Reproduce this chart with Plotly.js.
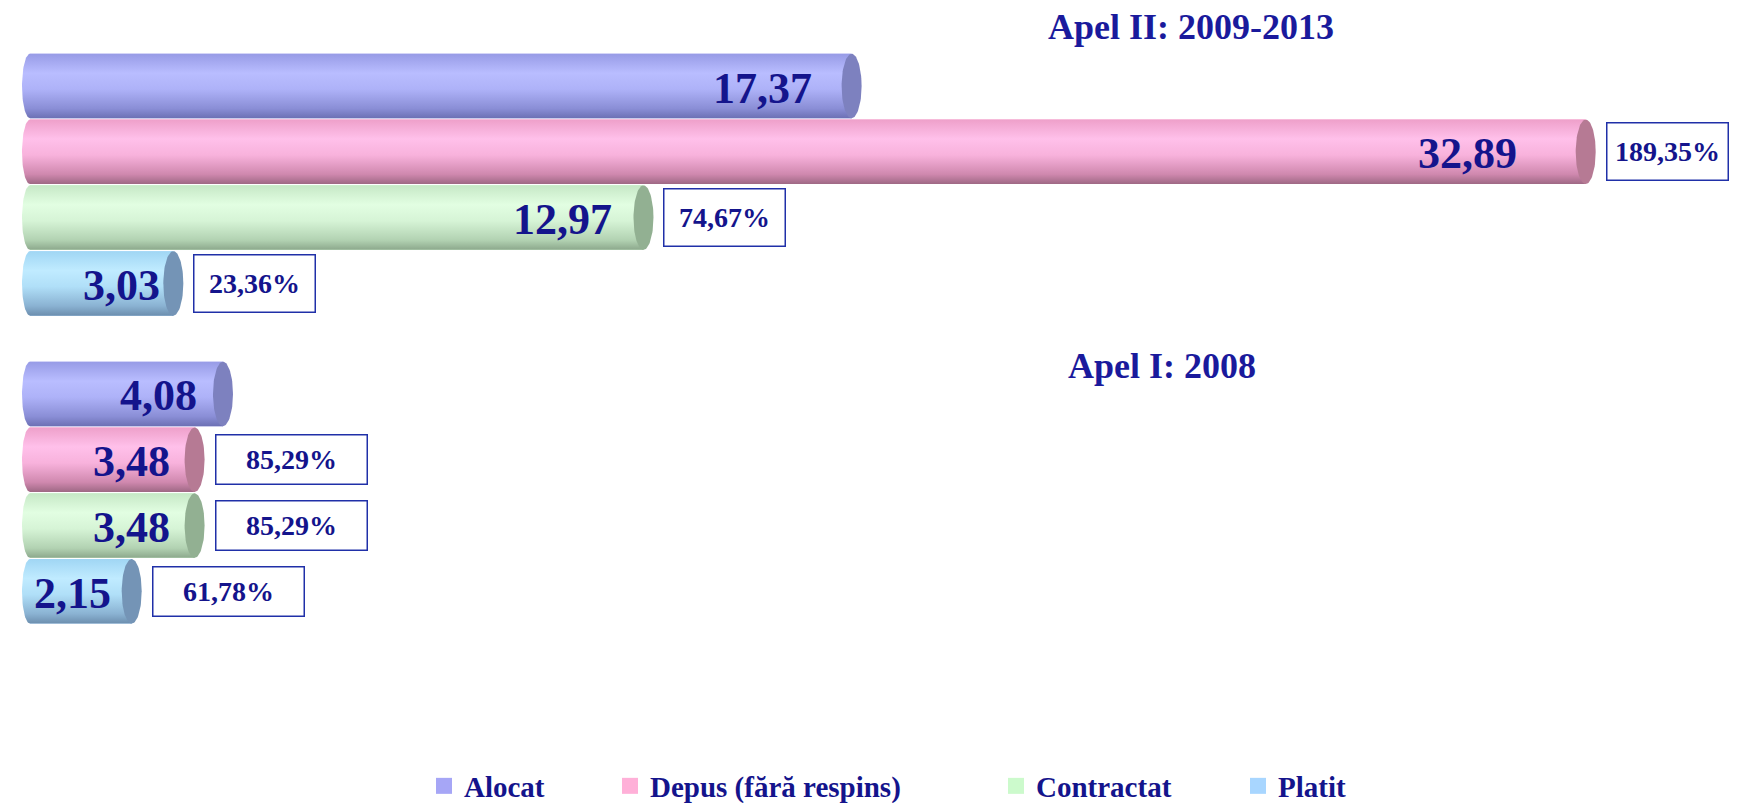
<!DOCTYPE html>
<html>
<head>
<meta charset="utf-8">
<script src="https://cdn.plot.ly/plotly-3.0.1.min.js"></script>
<style>
html,body{margin:0;padding:0;background:#fff;}
#chart{width:1738px;height:803px;}
</style>
</head>
<body>
<div id="chart"></div>
<script>
// ---- data ----
const groups = ['Apel II: 2009-2013', 'Apel I: 2008'];
const seriesNames = ['Alocat', 'Depus (fără respins)', 'Contractat', 'Platit'];
const alocat = [17.37, 4.08];
const depus = [32.89, 3.48];
const contractat = [12.97, 3.48];
const platit = [3.03, 2.15];
const pctAlocat = [null, null];
const pctDepus = ['189,35%', '85,29%'];
const pctContractat = ['74,67%', '85,29%'];
const pctPlatit = ['23,36%', '61,78%'];

// ---- styling / layout constants ----
const W = 1738, H = 803, MB = 73, plotH = H - MB;
const capPx = 10;
const zeroPx = 30, pxPerUnit = 47.3;
const firstPx = 86, pitchPx = 65.8;
const GROUP_GAP = 0.68, BAR_H = 0.98;
const capRx = capPx / pxPerUnit;
const NAVY = '#14148c';
const FONT = 'Liberation Serif, Times New Roman, serif';

const seriesValues = [alocat, depus, contractat, platit];
const seriesPct = [pctAlocat, pctDepus, pctContractat, pctPlatit];
const legendColors = ['#a6a6f6', '#ffb0d8', '#ccfacc', '#a8d6ff'];
const capColors = ['#7d81bf', '#b67a94', '#92b092', '#7494b6'];
// gradient stops listed from bottom edge (0) to top edge (1)
const gradients = [
  [[0,'#6c70b4'],[0.15,'#8a8ed6'],[0.45,'#aeb2f8'],[0.7,'#b9bdff'],[1,'#979be6']],
  [[0,'#9e6884'],[0.15,'#cf88ae'],[0.45,'#f8b2dc'],[0.7,'#ffc0ea'],[1,'#eea0ca']],
  [[0,'#8ca88c'],[0.15,'#b2d2b2'],[0.45,'#d6f4d6'],[0.7,'#e2fee2'],[1,'#c6e8c6']],
  [[0,'#6c8eae'],[0.15,'#8ab2d2'],[0.45,'#b0dff8'],[0.7,'#c0ebff'],[1,'#a0d6f4']]
];
const boxW = [122, 152], boxH = [58, 50];
const labelShift = [[6, 0.039], [14, 0.05]];
const legendPx = [424, 610, 996, 1238];

function yPos(g, s) { return g * (4 + GROUP_GAP) + s; }
function fmt(v) { return v.toFixed(2).replace('.', ','); }

const traces = [];
const annotations = [];
const N = 40;

seriesValues.forEach((vals, s) => {
  traces.push({
    type: 'bar', orientation: 'h', name: seriesNames[s],
    x: vals, y: groups.map((_, g) => yPos(g, s)), width: BAR_H,
    marker: {color: legendColors[s], line: {width: 0}},
    showlegend: false, hoverinfo: 'skip'
  });
  traces.push({
    type: 'scatter', mode: 'markers', name: seriesNames[s],
    x: [null], y: [null],
    marker: {symbol: 'square', size: 16, color: legendColors[s]},
    legend: s === 0 ? 'legend' : 'legend' + (s + 1),
    hoverinfo: 'skip'
  });
  vals.forEach((v, g) => {
    const yc = yPos(g, s), hh = BAR_H / 2;
    const bx = [], by = [];
    for (let i = 0; i <= N; i++) {
      const t = Math.PI / 2 + Math.PI * i / N;
      bx.push(capRx * 0.8 * Math.cos(t));
      by.push(yc + hh * Math.sin(t));
    }
    bx.push(v, v, bx[0]);
    by.push(yc - hh, yc + hh, by[0]);
    traces.push({
      type: 'scatter', mode: 'lines', x: bx, y: by, fill: 'toself',
      fillgradient: {type: 'vertical', colorscale: gradients[s]},
      line: {width: 0, color: 'rgba(0,0,0,0)'},
      showlegend: false, hoverinfo: 'skip'
    });
    const cx = [], cy = [];
    for (let i = 0; i <= 2 * N; i++) {
      const t = Math.PI * i / N;
      cx.push(v + capRx * Math.cos(t));
      cy.push(yc + hh * Math.sin(t));
    }
    traces.push({
      type: 'scatter', mode: 'lines', x: cx, y: cy, fill: 'toself',
      fillcolor: capColors[s], line: {width: 0, color: 'rgba(0,0,0,0)'},
      showlegend: false, hoverinfo: 'skip'
    });
    const barPx = v * pxPerUnit;
    annotations.push({
      x: v, y: yc, xref: 'x', yref: 'y', text: fmt(v),
      xanchor: 'right', yanchor: 'middle', xshift: -(labelShift[g][0] + labelShift[g][1] * barPx), yshift: -2,
      showarrow: false, font: {family: FONT, size: 44, color: NAVY, weight: 'bold'}
    });
    const p = seriesPct[s][g];
    if (p) {
      const capCenterPx = zeroPx + barPx;
      const shift = Math.min(20, W - 6 - boxW[g] - capCenterPx);
      annotations.push({
        x: v, y: yc, xref: 'x', yref: 'y', text: p,
        xanchor: 'left', yanchor: 'middle', xshift: shift,
        width: boxW[g] - 4, height: boxH[g] - 4, align: 'center', valign: 'middle',
        bordercolor: '#2030a8', borderwidth: 1.5, borderpad: 1, bgcolor: '#ffffff',
        showarrow: false, font: {family: FONT, size: 28, color: NAVY, weight: 'bold'}
      });
    }
  });
});

annotations.push({
  x: 1191 / W, y: 1 - 27 / plotH, xref: 'paper', yref: 'paper', text: groups[0],
  xanchor: 'center', yanchor: 'middle', showarrow: false,
  font: {family: FONT, size: 36, color: '#1a1a9c', weight: 'bold'}
});
annotations.push({
  x: 1162 / W, y: 1 - 366 / plotH, xref: 'paper', yref: 'paper', text: groups[1],
  xanchor: 'center', yanchor: 'middle', showarrow: false,
  font: {family: FONT, size: 36, color: '#1a1a9c', weight: 'bold'}
});

function legendCfg(i) {
  return {
    orientation: 'h', x: legendPx[i] / W, xanchor: 'left', y: -(786 - plotH) / plotH, yanchor: 'middle',
    bgcolor: 'rgba(0,0,0,0)', borderwidth: 0, itemsizing: 'trace',
    font: {family: FONT, size: 29, color: NAVY, weight: 'bold'}
  };
}

const layout = {
  width: W, height: H,
  margin: {l: 0, r: 0, t: 0, b: MB, pad: 0, autoexpand: false},
  paper_bgcolor: '#ffffff', plot_bgcolor: '#ffffff',
  showlegend: true,
  barmode: 'overlay',
  xaxis: {range: [-zeroPx / pxPerUnit, (W - zeroPx) / pxPerUnit], visible: false, fixedrange: true},
  yaxis: {range: [(plotH - firstPx) / pitchPx, -firstPx / pitchPx], visible: false, fixedrange: true},
  legend: legendCfg(0), legend2: legendCfg(1), legend3: legendCfg(2), legend4: legendCfg(3),
  annotations: annotations
};

Plotly.newPlot('chart', traces, layout, {displayModeBar: false, staticPlot: true});
</script>
</body>
</html>
